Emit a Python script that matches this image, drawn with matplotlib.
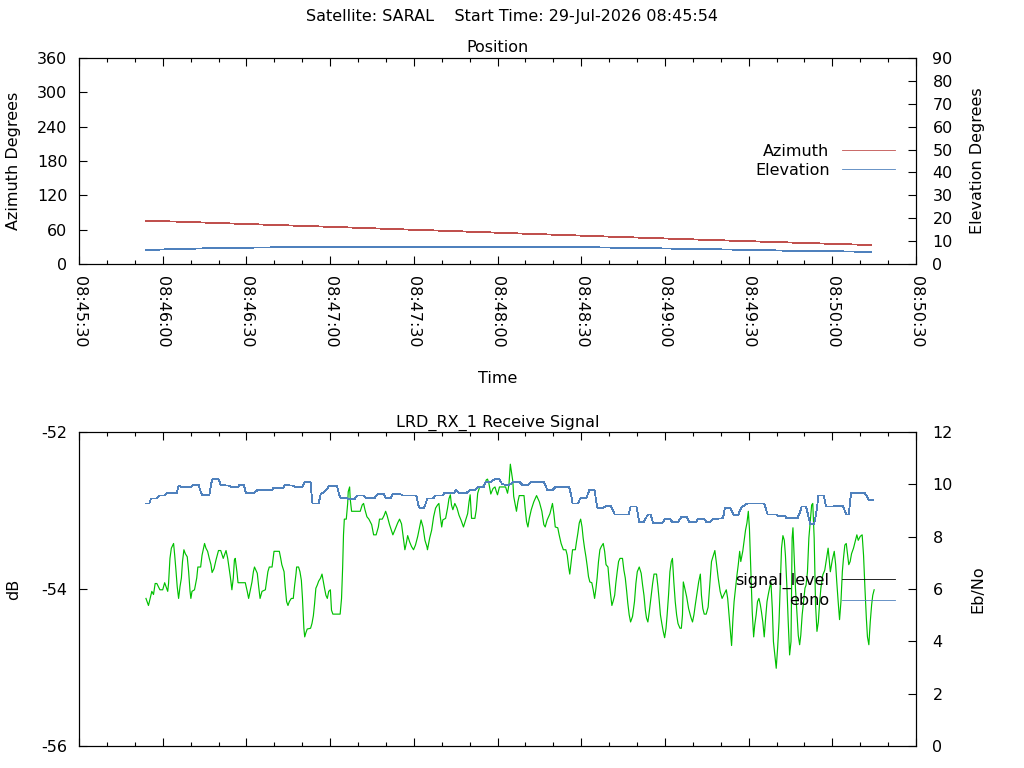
import matplotlib
matplotlib.use("Agg")
import matplotlib.pyplot as plt
import matplotlib.dates as mdates
from matplotlib.lines import Line2D
import pandas as pd

# ---------------- data ----------------
START = "2026-07-29 08:45:54"
AXIS_START = "2026-07-29 08:45:30"
AXIS_END = "2026-07-29 08:50:30"

# Position (sampled every 10 s from start)
pos_t = [0, 10, 20, 30, 40, 50, 60, 70, 80, 90, 100, 110, 120, 130, 140, 150,
         160, 170, 180, 190, 200, 210, 220, 230, 240, 250, 260]
azimuth = [75.0, 74.3, 72.6, 70.9, 69.2, 67.6, 66.0, 64.3, 62.6, 60.8, 59.2, 57.5,
           55.8, 54.0, 52.3, 50.6, 48.9, 47.2, 45.6, 44.0, 42.3, 40.8, 39.2, 37.7,
           36.2, 34.6, 33.3]
elevation = [6.1, 6.5, 6.8, 7.0, 7.2, 7.3, 7.4, 7.5, 7.5, 7.6, 7.6, 7.6, 7.6, 7.5,
             7.5, 7.4, 7.3, 7.1, 6.9, 6.7, 6.5, 6.3, 6.1, 5.8, 5.7, 5.5, 5.3]

# Receive signal level (dB)
sig_t = [0.0, 0.9, 1.5, 2.1, 2.7, 3.3, 3.9, 5.0, 6.0, 6.7, 7.4, 7.8, 8.1, 8.6, 9.1, 9.9,
         10.3, 10.7, 11.2, 11.7, 12.2, 12.7, 13.1, 13.6, 14.1, 14.8, 15.3, 15.8, 16.1, 16.5,
         17.4, 18.2, 18.6, 19.6, 20.1, 21.0, 21.5, 22.1, 22.7, 23.3, 23.7, 24.4, 25.1, 26.0,
         26.8, 27.7, 28.7, 29.3, 29.9, 30.3, 30.8, 31.3, 31.7, 32.0, 32.6, 33.0, 35.6, 36.3,
         36.8, 37.3, 38.0, 38.5, 38.9, 39.9, 40.4, 40.9, 41.6, 42.8, 43.2, 43.7, 44.2, 45.2,
         45.9, 47.8, 48.3, 48.7, 49.5, 49.9, 50.4, 50.9, 51.4, 52.1, 52.8, 53.3, 53.8, 54.0,
         54.7, 55.2, 55.7, 56.1, 56.6, 56.9, 57.3, 57.8, 59.0, 59.5, 60.0, 60.4, 60.9, 61.4,
         61.9, 62.6, 63.1, 63.6, 64.0, 64.5, 65.0, 65.5, 66.1, 66.5, 67.0, 69.6, 70.1, 70.5,
         70.8, 71.1, 71.8, 72.3, 72.5, 73.0, 73.2, 73.7, 76.8, 77.5, 78.0, 78.5, 79.2, 79.9,
         80.9, 81.6, 82.5, 83.3, 83.7, 84.7, 85.4, 85.9, 86.4, 87.3, 88.5, 89.2, 90.2, 90.9,
         91.6, 92.1, 92.6, 92.8, 93.3, 93.8, 94.5, 95.2, 95.9, 96.6, 97.4, 98.1, 98.6, 99.3,
         100.0, 100.7, 100.9, 101.7, 102.4, 103.1, 103.8, 104.5, 105.0, 105.5, 106.0, 106.4,
         107.4, 108.1, 108.6, 109.1, 109.5, 110.0, 110.7, 111.5, 112.2, 112.9, 113.8, 114.6,
         115.3, 115.8, 116.2, 116.7, 117.9, 118.4, 118.9, 119.6, 120.5, 121.3, 122.0, 122.4,
         122.9, 123.6, 124.4, 125.1, 125.6, 126.0, 126.7, 128.9, 129.6, 130.1, 130.6, 131.0,
         131.5, 131.8, 132.4, 132.8, 133.3, 133.8, 135.5, 135.9, 136.4, 136.9, 137.4, 138.1,
         139.0, 140.0, 141.0, 141.9, 142.6, 143.1, 143.8, 144.8, 145.3, 145.7, 146.2, 146.7,
         147.6, 148.1, 148.8, 149.6, 150.5, 151.0, 151.5, 151.9, 152.4, 152.9, 153.9, 154.3,
         154.8, 155.3, 155.8, 156.3, 156.7, 157.2, 157.7, 158.2, 158.6, 159.1, 159.8, 160.3,
         160.8, 161.3, 161.7, 162.2, 162.7, 163.2, 163.9, 164.4, 164.9, 165.6, 166.0, 166.5,
         167.0, 167.5, 168.0, 168.4, 168.9, 169.4, 169.9, 170.8, 171.3, 171.8, 172.3, 172.7,
         173.2, 173.7, 174.4, 175.1, 175.6, 176.1, 176.8, 177.5, 178.0, 178.5, 179.0, 179.4,
         179.9, 180.4, 181.1, 181.6, 182.1, 183.0, 183.5, 184.0, 184.4, 184.9, 185.4, 185.9,
         186.4, 186.8, 187.3, 187.8, 188.3, 188.7, 189.2, 189.7, 190.2, 190.7, 191.4, 191.9,
         192.3, 192.6, 193.0, 193.8, 194.5, 195.4, 195.9, 196.4, 196.9, 197.6, 198.1, 198.7,
         199.1, 199.6, 200.1, 200.8, 201.5, 202.0, 202.7, 203.4, 203.9, 204.4, 205.1, 205.8,
         206.5, 207.3, 208.0, 208.5, 208.9, 209.4, 209.9, 210.4, 210.8, 211.3, 211.8, 212.3,
         212.8, 213.2, 213.9, 214.4, 214.9, 215.4, 215.9, 216.3, 216.8, 217.3, 217.8, 218.2,
         218.7, 219.2, 219.7, 220.2, 220.6, 221.1, 221.6, 222.1, 222.6, 223.0, 223.5, 224.0,
         224.5, 224.9, 225.4, 225.9, 226.4, 226.9, 227.3, 227.8, 228.3, 228.8, 229.2, 229.7,
         230.2, 230.7, 231.2, 231.6, 231.9, 232.3, 232.8, 233.3, 233.8, 234.3, 234.7, 235.2,
         235.7, 236.2, 236.6, 237.1, 237.6, 238.1, 238.6, 239.0, 239.5, 240.0, 240.5, 241.0,
         241.4, 241.9, 242.6, 243.3, 244.1, 244.5, 245.3, 246.0, 246.7, 247.2, 247.6, 248.1,
         248.6, 249.1, 249.6, 250.0, 250.5, 251.0, 251.5, 251.9, 252.4, 252.9, 253.6, 254.3,
         254.8, 255.3, 256.0, 256.7, 257.2, 257.7, 258.2, 258.6, 259.1, 259.6, 260.1, 260.5,
         261.0]
signal_db = [-54.12, -54.21, -54.12, -54.03, -54.07, -53.93, -53.93, -54.01, -54.01, -53.92,
             -53.99, -54.03, -53.93, -53.61, -53.48, -53.42, -53.57, -53.74, -53.97, -54.12,
             -53.97, -53.86, -53.65, -53.50, -53.55, -53.59, -53.78, -54.03, -54.12, -54.03,
             -54.01, -53.86, -53.72, -53.72, -53.57, -53.42, -53.48, -53.52, -53.61, -53.69,
             -53.79, -53.74, -53.63, -53.51, -53.51, -53.61, -53.51, -53.61, -53.76, -53.86,
             -54.01, -53.86, -53.63, -53.61, -53.78, -53.92, -53.92, -54.03, -54.12, -54.03,
             -53.91, -53.78, -53.72, -53.80, -53.97, -54.12, -54.03, -54.01, -53.91, -53.78,
             -53.72, -53.72, -53.52, -53.52, -53.61, -53.69, -53.78, -53.97, -54.16, -54.21,
             -54.16, -54.12, -54.12, -53.95, -53.80, -53.72, -53.72, -53.78, -53.89, -54.12,
             -54.50, -54.61, -54.56, -54.51, -54.50, -54.44, -54.34, -54.20, -53.99, -53.95,
             -53.90, -53.86, -53.81, -53.91, -53.99, -54.08, -54.12, -54.03, -54.01, -54.27,
             -54.32, -54.32, -54.12, -53.72, -53.31, -53.11, -53.11, -52.91, -52.76, -52.70,
             -52.85, -53.01, -53.01, -52.93, -52.91, -52.99, -53.08, -53.11, -53.18, -53.31,
             -53.31, -53.21, -53.11, -53.11, -53.06, -53.01, -53.06, -53.18, -53.31, -53.25,
             -53.16, -53.11, -53.17, -53.31, -53.44, -53.50, -53.42, -53.32, -53.40, -53.46,
             -53.50, -53.44, -53.33, -53.21, -53.12, -53.21, -53.38, -53.46, -53.50, -53.35,
             -53.25, -53.08, -52.97, -52.93, -52.91, -53.08, -53.21, -53.12, -53.10, -52.97,
             -52.85, -52.80, -52.93, -52.99, -52.91, -52.97, -53.06, -53.12, -53.21, -53.12,
             -53.04, -52.89, -52.80, -53.10, -53.10, -52.99, -52.78, -52.70, -52.70, -52.67,
             -52.61, -52.60, -52.65, -52.79, -52.72, -52.70, -52.76, -52.80, -52.70, -52.70,
             -52.78, -52.67, -52.41, -52.51, -52.63, -52.82, -52.93, -53.01, -52.89, -52.81,
             -52.81, -52.97, -53.14, -53.21, -53.10, -52.99, -52.89, -52.81, -52.89, -53.01,
             -53.18, -53.21, -53.12, -53.04, -52.97, -52.91, -53.04, -53.21, -53.22, -53.31,
             -53.42, -53.50, -53.50, -53.57, -53.72, -53.81, -53.65, -53.50, -53.50, -53.40,
             -53.29, -53.16, -53.11, -53.21, -53.35, -53.48, -53.59, -53.72, -53.84, -53.91,
             -53.92, -54.01, -54.12, -53.99, -53.86, -53.65, -53.50, -53.46, -53.42, -53.52,
             -53.69, -53.72, -53.89, -54.06, -54.21, -54.15, -54.08, -53.93, -53.78, -53.65,
             -53.61, -53.61, -53.76, -53.86, -54.03, -54.18, -54.33, -54.42, -54.35, -54.16,
             -53.93, -53.78, -53.72, -53.80, -53.95, -54.08, -54.27, -54.37, -54.42, -54.29,
             -54.08, -53.93, -53.81, -53.81, -53.97, -54.16, -54.33, -54.44, -54.54, -54.62,
             -54.50, -54.33, -54.08, -53.78, -53.65, -53.61, -53.91, -54.16, -54.33, -54.44,
             -54.50, -54.50, -54.33, -53.91, -53.97, -54.10, -54.25, -54.37, -54.42, -54.33,
             -54.20, -54.03, -53.91, -53.81, -54.08, -54.25, -54.32, -54.32, -54.23, -53.99,
             -53.65, -53.57, -53.51, -53.65, -53.86, -54.03, -54.12, -54.06, -54.01, -54.12,
             -54.29, -54.50, -54.72, -54.37, -54.16, -53.99, -53.83, -53.69, -53.52, -53.65,
             -53.52, -53.38, -53.25, -53.16, -53.01, -53.23, -53.78, -54.29, -54.61, -54.46,
             -54.33, -54.16, -54.12, -54.20, -54.29, -54.42, -54.61, -54.37, -54.16, -54.08,
             -53.99, -53.91, -54.25, -54.67, -54.84, -55.01, -54.75, -54.42, -53.99, -53.48,
             -53.32, -53.38, -53.57, -53.95, -54.42, -54.84, -54.67, -53.35, -53.22, -53.57,
             -53.99, -54.29, -54.59, -54.71, -54.59, -54.33, -54.16, -53.99, -53.95, -53.78,
             -53.35, -53.14, -52.93, -52.91, -53.35, -54.20, -54.54, -54.42, -54.20, -53.99,
             -53.82, -53.76, -53.57, -53.48, -53.78, -53.63, -53.52, -53.69, -53.91, -54.16,
             -54.39, -54.16, -53.78, -53.61, -53.44, -53.42, -53.57, -53.69, -53.65, -53.55,
             -53.48, -53.38, -53.31, -53.38, -53.33, -53.31, -53.57, -53.99, -54.37, -54.61,
             -54.71, -54.42, -54.20, -54.08, -54.01]

# Eb/No
ebno_t = [0.0, 1.2, 1.8, 3.8, 4.8, 6.7, 7.6, 11.0, 11.7, 13.1, 16.1, 16.7, 18.9, 19.6, 20.1,
          22.7, 23.4, 23.9, 26.0, 26.8, 29.9, 30.6, 32.9, 33.4, 35.1, 35.8, 38.8, 40.0, 45.2,
          45.6, 49.2, 49.7, 52.8, 53.8, 55.9, 56.9, 59.0, 59.5, 59.7, 61.9, 62.6, 64.0, 65.1,
          65.7, 68.4, 69.6, 71.8, 72.7, 74.7, 75.6, 78.0, 78.7, 82.1, 83.0, 85.2, 85.9, 87.8,
          88.5, 91.1, 92.1, 96.9, 97.6, 98.1, 99.7, 100.9, 102.9, 103.8, 106.3, 106.9, 110.3,
          111.2, 112.2, 115.0, 116.0, 117.9, 118.9, 121.0, 121.7, 123.6, 124.8, 126.7, 127.7,
          130.2, 131.4, 134.0, 135.0, 136.9, 137.9, 142.7, 143.9, 145.7, 146.7, 151.7, 152.4,
          152.9, 154.8, 155.8, 157.9, 158.9, 160.8, 161.7, 164.1, 164.9, 166.6, 168.0, 173.0,
          173.7, 175.8, 176.8, 178.5, 179.9, 180.9, 181.8, 184.9, 186.1, 187.8, 188.7, 190.7,
          191.9, 193.8, 194.7, 197.1, 197.8, 200.1, 200.8, 202.2, 203.2, 206.8, 207.5, 209.6,
          210.6, 212.3, 213.2, 214.2, 215.6, 221.6, 222.8, 225.8, 226.6, 229.0, 229.7, 233.5,
          234.5, 235.0, 236.6, 237.6, 238.1, 239.5, 240.5, 241.0, 242.9, 243.8, 246.2, 246.9,
          249.8, 251.0, 251.9, 252.7, 257.7, 259.1, 260.5]
ebno = [9.27, 9.27, 9.46, 9.46, 9.57, 9.57, 9.66, 9.66, 9.95, 9.89, 9.89, 9.97, 9.97, 9.72,
        9.59, 9.59, 10.04, 10.20, 10.20, 9.97, 9.95, 9.89, 9.89, 9.97, 9.97, 9.68, 9.68, 9.78,
        9.78, 9.87, 9.87, 9.97, 9.95, 9.89, 9.89, 10.08, 10.08, 9.46, 9.27, 9.27, 9.62, 9.72,
        9.85, 9.95, 9.95, 9.49, 9.49, 9.43, 9.43, 9.57, 9.57, 9.49, 9.49, 9.63, 9.63, 9.49,
        9.49, 9.63, 9.63, 9.57, 9.57, 9.21, 9.11, 9.11, 9.46, 9.46, 9.57, 9.57, 9.66, 9.66,
        9.78, 9.68, 9.68, 9.78, 9.78, 9.89, 9.89, 10.08, 10.08, 10.19, 10.19, 10.00, 9.97,
        10.08, 10.08, 9.97, 9.97, 10.08, 10.08, 9.78, 9.78, 9.89, 9.89, 9.59, 9.27, 9.27,
        9.49, 9.49, 9.78, 9.78, 9.11, 9.11, 9.17, 9.17, 8.85, 8.85, 9.15, 9.15, 8.57, 8.57,
        8.85, 8.85, 8.51, 8.51, 8.68, 8.68, 8.55, 8.55, 8.76, 8.76, 8.55, 8.55, 8.68, 8.68,
        8.57, 8.57, 8.68, 8.70, 9.08, 9.08, 8.83, 8.83, 9.08, 9.18, 9.27, 9.27, 8.85, 8.85,
        8.79, 8.79, 8.70, 8.70, 8.96, 9.15, 9.15, 8.70, 8.47, 8.47, 9.08, 9.57, 9.57, 9.15,
        9.15, 9.17, 9.17, 8.85, 8.85, 9.66, 9.66, 9.40, 9.40]

# ---------------- figure ----------------
plt.rcParams['font.family'] = ['DejaVu Sans']
plt.rcParams['font.size'] = 11.5
plt.rcParams['axes.linewidth'] = 0.8
plt.rcParams['axes.unicode_minus'] = False

RED = "#c0504d"
BLUE = "#4f81bd"
GREEN = "#00c000"
LW = 0.6
FS = 11.5

start = pd.Timestamp(START)
pos_times = start + pd.to_timedelta(pos_t, unit='s')
sig_times = start + pd.to_timedelta(sig_t, unit='s')
ebno_times = start + pd.to_timedelta(ebno_t, unit='s')
x0, x1 = pd.Timestamp(AXIS_START), pd.Timestamp(AXIS_END)

fig = plt.figure(figsize=(10.24, 7.68), dpi=100)
L, W = 79 / 1024, 837 / 1024
ax1 = fig.add_axes([L, 1 - 264 / 768, W, 206 / 768])
ax1r = ax1.twinx()
ax2 = fig.add_axes([L, 1 - 746 / 768, W, 314 / 768])
ax2r = ax2.twinx()

# top: position
ax1.plot(pos_times, azimuth, color=RED, lw=LW, antialiased=False)
ax1r.plot(pos_times, elevation, color=BLUE, lw=LW, antialiased=False)

# bottom: receive signal
ax2.plot(sig_times, signal_db, color=GREEN, lw=0.85)
ax2r.plot(ebno_times, ebno, color=BLUE, lw=LW, antialiased=False)

for ax in (ax1, ax2):
    ax.set_xlim(x0, x1)
    ax.xaxis.set_major_locator(mdates.SecondLocator(bysecond=[0, 30]))
    ax.xaxis.set_minor_locator(mdates.SecondLocator(bysecond=[10, 20, 40, 50]))
    ax.xaxis.set_major_formatter(mdates.DateFormatter('%H:%M:%S'))
    ax.tick_params(axis='x', which='major', direction='in', length=6, width=0.8,
                   top=True, bottom=True, pad=8.3)
    ax.tick_params(axis='x', which='minor', direction='in', length=3, width=0.8,
                   top=True, bottom=True)
    ax.tick_params(axis='y', direction='in', length=6, width=0.8, pad=8.3)

ax1.tick_params(axis='x', labelrotation=-90)
ax2.tick_params(axis='x', labelbottom=False)
for axr in (ax1r, ax2r):
    axr.tick_params(axis='y', direction='in', length=6, width=0.8, pad=11.8)

ax1.set_ylim(0, 360)
ax1.set_yticks([0, 60, 120, 180, 240, 300, 360])
ax1r.set_ylim(0, 90)
ax1r.set_yticks(list(range(0, 91, 10)))
ax2.set_ylim(-56, -52)
ax2.set_yticks([-56, -54, -52])
ax2r.set_ylim(0, 12)
ax2r.set_yticks(list(range(0, 13, 2)))

ax1.set_title('Position', pad=4, fontsize=FS)
ax2.set_title('LRD_RX_1 Receive Signal', pad=4, fontsize=FS)
ax1.set_xlabel('Time')
ax1.xaxis.set_label_coords(0.5, -0.519)
ax1.set_ylabel('Azimuth Degrees')
ax1.yaxis.set_label_coords(-0.0693, 0.5)
ax1r.set_ylabel('Elevation Degrees')
ax1r.yaxis.set_label_coords(1.0645, 0.5)
ax2.set_ylabel('dB')
ax2.yaxis.set_label_coords(-0.0693, 0.5)
ax2r.set_ylabel('Eb/No')
ax2r.yaxis.set_label_coords(1.0645, 0.5)

fig.text(0.5, 1 - 17 / 768, 'Satellite: SARAL    Start Time: 29-Jul-2026 08:45:54',
         ha='center', va='center', fontsize=FS)

leg_kw = dict(loc='upper right', bbox_transform=fig.transFigure, frameon=False,
              markerfirst=False, handlelength=3.3, handletextpad=0.8, borderpad=0,
              borderaxespad=0, labelspacing=0.25, fontsize=FS)
h_top = [Line2D([], [], color=RED, lw=LW), Line2D([], [], color=BLUE, lw=LW)]
ax1r.legend(h_top, ['Azimuth', 'Elevation'], bbox_to_anchor=(895 / 1024, 1 - 144 / 768), **leg_kw)
h_bot = [Line2D([], [], color='black', lw=LW), Line2D([], [], color=BLUE, lw=LW)]
ax2r.legend(h_bot, ['signal_level', 'ebno'], bbox_to_anchor=(895 / 1024, 1 - 573 / 768), **leg_kw)

fig.savefig('out.png', dpi=100)
